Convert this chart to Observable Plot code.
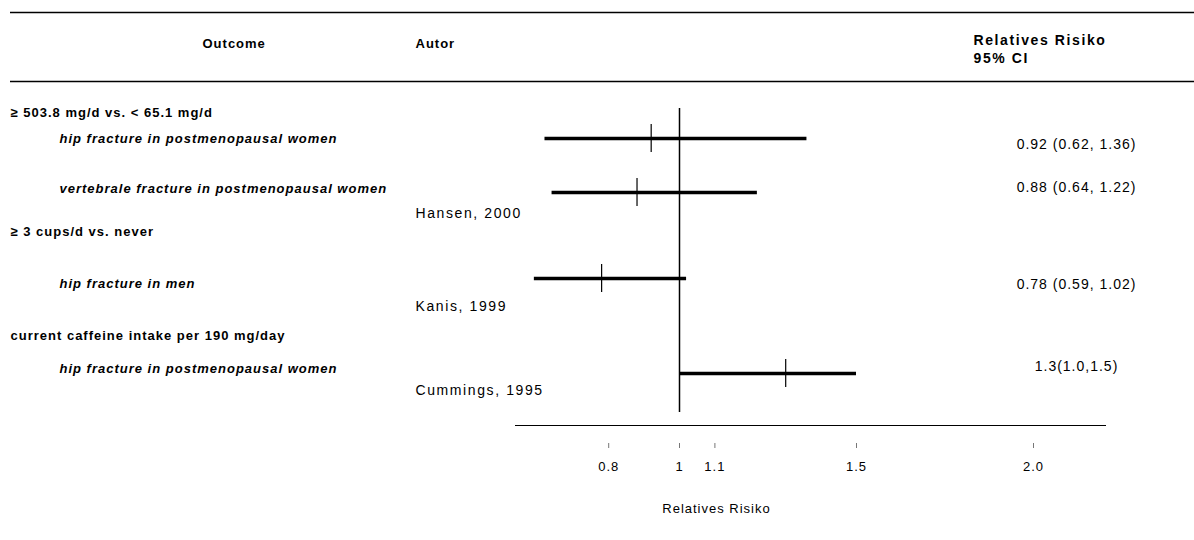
<!DOCTYPE html>
<html>
<head>
<meta charset="utf-8">
<script src="https://cdn.jsdelivr.net/npm/d3@7"></script>
<script src="https://cdn.jsdelivr.net/npm/@observablehq/plot@0.6"></script>
<style>
  html, body { margin: 0; padding: 0; background: #fff; }
  #chart svg { display: block; }
</style>
</head>
<body>
<div id="chart"></div>
<script>
// ---- data ----
const headers = ["Outcome", "Autor", "Relatives Risiko\n95% CI"];
const groups = ["≥ 503.8 mg/d vs. < 65.1 mg/d", "≥ 3 cups/d vs. never", "current caffeine intake per 190 mg/day"];
const outcomes = ["hip fracture in postmenopausal women", "vertebrale fracture in postmenopausal women", "hip fracture in men", "hip fracture in postmenopausal women"];
const authors = ["Hansen, 2000", "Kanis, 1999", "Cummings, 1995"];
const rr = [0.92, 0.88, 0.78, 1.3];
const ciLow = [0.62, 0.64, 0.59, 1.0];
const ciHigh = [1.36, 1.22, 1.02, 1.5];
const rrLabels = ["0.92 (0.62, 1.36)", "0.88 (0.64, 1.22)", "0.78 (0.59, 1.02)", "1.3(1.0,1.5)"];
const tickValues = [0.8, 1, 1.1, 1.5, 2.0];
const tickLabels = ["0.8", "1", "1.1", "1.5", "2.0"];
const axisTitle = "Relatives Risiko";

// ---- layout (row placement, in pixels from top / left) ----
const headerX = [202, 415, 973];
const headerY = [42, 42, 48];
const headerSize = [13, 13, 14];
const headerClass = ["hdr", "hdr", "wide"];
const groupY = [112, 231, 335];
const outcomeY = [138, 188, 283, 368];
const lineY = [138, 192, 278, 373];
const rrY = [144, 187, 284, 366];
const authorY = [213, 306, 390];

const idx = rr.map((_, i) => i);
const font = "'Liberation Sans', Arial, Helvetica, sans-serif";

const headerMarks = headers.map((h, i) =>
  Plot.text([h], {
    frameAnchor: "left", y: () => headerY[i], dx: headerX[i], text: d => d,
    textAnchor: "start", fontWeight: "bold", lineHeight: 1.25,
    fontSize: headerSize[i], className: headerClass[i]
  })
);

const chart = Plot.plot({
  width: 1194,
  height: 540,
  margin: 0,
  style: { fontFamily: font, fontSize: "13px", letterSpacing: "1px", background: "#fff", color: "#000" },
  x: { type: "linear", domain: [1, 2], range: [679, 1033], axis: null },
  y: { type: "linear", domain: [0, 540], range: [0, 540], axis: null },
  marks: [
    // table rules
    Plot.ruleY([12], { stroke: "#000", strokeWidth: 1.5, insetLeft: 10 }),
    Plot.ruleY([81], { stroke: "#000", strokeWidth: 1.5, insetLeft: 10 }),
    // axis line
    Plot.ruleY([425], { stroke: "#000", strokeWidth: 1.2, insetLeft: 515, insetRight: 88 }),
    // line of no effect
    Plot.ruleX([1], { y1: () => 108, y2: () => 412, stroke: "#000", strokeWidth: 1.5 }),
    // confidence intervals
    Plot.ruleY(idx, { y: i => lineY[i], x1: i => ciLow[i], x2: i => ciHigh[i], stroke: "#000", strokeWidth: 3.5 }),
    // point estimates
    Plot.ruleX(idx, { x: i => rr[i], y1: i => lineY[i] - 14, y2: i => lineY[i] + 14, stroke: "#000", strokeWidth: 1.2 }),
    // headers
    ...headerMarks,
    // group labels
    Plot.text(groups, { frameAnchor: "left", y: (d, i) => groupY[i], dx: 10, textAnchor: "start", fontWeight: "bold" }),
    // outcomes
    Plot.text(outcomes, { frameAnchor: "left", y: (d, i) => outcomeY[i], dx: 59, textAnchor: "start", fontWeight: "bold", fontStyle: "italic" }),
    // authors
    Plot.text(authors, { frameAnchor: "left", y: (d, i) => authorY[i], dx: 415, textAnchor: "start", fontSize: 14, className: "wide" }),
    // RR labels
    Plot.text(rrLabels, { frameAnchor: "left", y: (d, i) => rrY[i], dx: 1076, textAnchor: "middle", fontSize: 14 }),
    // x ticks
    Plot.ruleX(tickValues, { x: d => d, y1: () => 443, y2: () => 448, stroke: "#777", strokeWidth: 1 }),
    Plot.text(tickValues, { x: d => d, y: () => 466, text: (d, i) => tickLabels[i] }),
    // axis title
    Plot.text([axisTitle], { frameAnchor: "left", y: () => 508, dx: 716, textAnchor: "middle" })
  ]
});

document.getElementById("chart").appendChild(chart);
// wider letter spacing for the author names and the bold RR header
chart.querySelectorAll("g.wide text").forEach(t => t.setAttribute("letter-spacing", "1.6"));
</script>
</body>
</html>
